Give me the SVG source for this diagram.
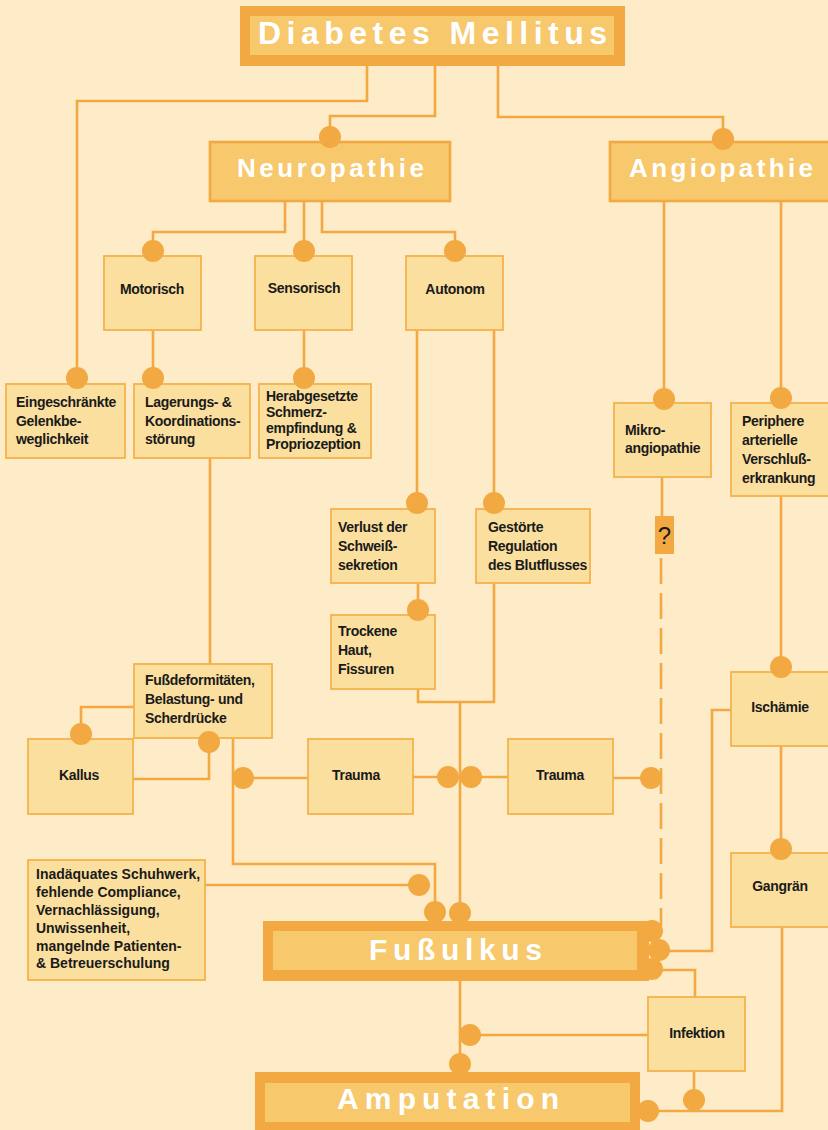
<svg xmlns="http://www.w3.org/2000/svg" width="828" height="1130" viewBox="0 0 828 1130">
<style>
.ln{fill:none;stroke:#F2A942;stroke-width:2.6;stroke-linejoin:miter;stroke-linecap:butt}
.dash{stroke-dasharray:26 9}
.dot{fill:#F2A942}
.box{fill:#FBDF9E;stroke:#F4B24C;stroke-width:1.8}
.tbox{fill:#F7C86C;stroke:#F2A942;stroke-width:2.6}
.outer{fill:#F2A942}
.inner{fill:#F7C86C}
.txt{font-family:"Liberation Sans",Arial,sans-serif;font-weight:bold;font-size:14px;fill:#1a1a1a;letter-spacing:-0.3px}
.c{text-anchor:middle}
.ttl{font-family:"Liberation Sans",Arial,sans-serif;font-weight:bold;fill:#ffffff}
</style>
<rect width="828" height="1130" fill="#FEEBC8"/>

<g id="connectors">
<path class="ln" d="M367,66 V101 H77 V378"/>
<path class="ln" d="M435,66 V116 H330 V137"/>
<path class="ln" d="M498,66 V117 H723 V139"/>
<path class="ln" d="M285,201 V232 H153 V251"/>
<path class="ln" d="M304,201 V251"/>
<path class="ln" d="M322,201 V232 H455 V251"/>
<path class="ln" d="M153,330 V378"/>
<path class="ln" d="M304,330 V378"/>
<path class="ln" d="M417,330 V503"/>
<path class="ln" d="M494,330 V503"/>
<path class="ln" d="M418,583 V610"/>
<path class="ln" d="M418,689 V702 H494 V583"/>
<path class="ln" d="M460,702 V913"/>
<path class="ln" d="M210,458 V664"/>
<path class="ln" d="M134,707 H81 V734"/>
<path class="ln" d="M133,779 H209 V742"/>
<path class="ln" d="M233,738 V864 H435 V912"/>
<path class="ln" d="M243,778 H308"/>
<path class="ln" d="M413,777 H448"/>
<path class="ln" d="M471,777 H508"/>
<path class="ln" d="M613,778 H651"/>
<path class="ln" d="M664,201 V399"/>
<path class="ln" d="M781,201 V398"/>
<path class="ln" d="M662,477 V516"/>
<path class="ln dash" d="M661,558 V926"/>
<path class="ln" d="M781,496 V667"/>
<path class="ln" d="M781,746 V849"/>
<path class="ln" d="M731,710 H712 V951 H659"/>
<path class="ln" d="M205,885 H419"/>
<path class="ln" d="M651,970 H695 V997"/>
<path class="ln" d="M460,981 V1064"/>
<path class="ln" d="M648,1035 H470"/>
<path class="ln" d="M694,1071 V1100"/>
<path class="ln" d="M782,927 V1111 H648"/>
</g>

<g id="diabetes">
<rect class="outer" x="240" y="6" width="385" height="60"/>
<rect class="inner" x="250" y="16" width="364" height="39"/>
<text class="ttl" x="258" y="44" font-size="32" textLength="349" lengthAdjust="spacing">Diabetes Mellitus</text>
</g>
<g id="neuropathie">
<rect class="tbox" x="210" y="142" width="240" height="59"/>
<text class="ttl" x="237" y="177" font-size="26" textLength="187" lengthAdjust="spacing">Neuropathie</text>
</g>
<g id="angiopathie">
<rect class="tbox" x="610" y="142" width="222" height="59"/>
<text class="ttl" x="629" y="177" font-size="26" textLength="184" lengthAdjust="spacing">Angiopathie</text>
</g>
<g id="motorisch">
<rect class="box" x="104" y="256" width="97" height="74"/>
<text class="txt c" x="152" y="294">Motorisch</text>
</g>
<g id="sensorisch">
<rect class="box" x="255" y="256" width="97" height="74"/>
<text class="txt c" x="304" y="293">Sensorisch</text>
</g>
<g id="autonom">
<rect class="box" x="406" y="256" width="97" height="74"/>
<text class="txt c" x="455" y="294">Autonom</text>
</g>
<g id="eingeschraenkte">
<rect class="box" x="6" y="384" width="119" height="74"/>
<text class="txt"><tspan x="16" y="407">Eingeschränkte</tspan><tspan x="16" y="425.5">Gelenkbe-</tspan><tspan x="16" y="444">weglichkeit</tspan></text>
</g>
<g id="lagerung">
<rect class="box" x="134" y="384" width="116" height="74"/>
<text class="txt"><tspan x="145" y="407">Lagerungs- &amp;</tspan><tspan x="145" y="425.5">Koordinations-</tspan><tspan x="145" y="444">störung</tspan></text>
</g>
<g id="herabgesetzte">
<rect class="box" x="259" y="384" width="112" height="74"/>
<text class="txt"><tspan x="266" y="401">Herabgesetzte</tspan><tspan x="266" y="417">Schmerz-</tspan><tspan x="266" y="433">empfindung &amp;</tspan><tspan x="266" y="449">Propriozeption</tspan></text>
</g>
<g id="verlust">
<rect class="box" x="331" y="509" width="104" height="74"/>
<text class="txt"><tspan x="338" y="531.5">Verlust der</tspan><tspan x="338" y="550.5">Schweiß-</tspan><tspan x="338" y="569.5">sekretion</tspan></text>
</g>
<g id="gestoerte">
<rect class="box" x="476" y="509" width="114" height="74"/>
<text class="txt"><tspan x="488" y="531.5">Gestörte</tspan><tspan x="488" y="550.5">Regulation</tspan><tspan x="488" y="569.5">des Blutflusses</tspan></text>
</g>
<g id="trockene">
<rect class="box" x="331" y="615" width="104" height="74"/>
<text class="txt"><tspan x="338" y="636">Trockene</tspan><tspan x="338" y="655">Haut,</tspan><tspan x="338" y="674">Fissuren</tspan></text>
</g>
<g id="mikro">
<rect class="box" x="614" y="403" width="97" height="74"/>
<text class="txt"><tspan x="625" y="434.5">Mikro-</tspan><tspan x="625" y="452.5">angiopathie</tspan></text>
</g>
<g id="frage">
<rect class="outer" x="655" y="516" width="19" height="38"/>
<text x="664.5" y="544" font-family="Liberation Sans, Arial, sans-serif" font-size="24" fill="#1a1a1a" text-anchor="middle">?</text>
</g>
<g id="periphere">
<rect class="box" x="731" y="403" width="99" height="93"/>
<text class="txt"><tspan x="742" y="426">Periphere</tspan><tspan x="742" y="445">arterielle</tspan><tspan x="742" y="464">Verschluß-</tspan><tspan x="742" y="483">erkrankung</tspan></text>
</g>
<g id="fussdeformitaeten">
<rect class="box" x="134" y="664" width="138" height="74"/>
<text class="txt"><tspan x="145" y="685">Fußdeformitäten,</tspan><tspan x="145" y="704">Belastung- und</tspan><tspan x="145" y="723">Scherdrücke</tspan></text>
</g>
<g id="kallus">
<rect class="box" x="28" y="739" width="105" height="75"/>
<text class="txt c" x="79" y="780">Kallus</text>
</g>
<g id="trauma1">
<rect class="box" x="308" y="739" width="105" height="75"/>
<text class="txt c" x="356" y="780">Trauma</text>
</g>
<g id="trauma2">
<rect class="box" x="508" y="739" width="105" height="75"/>
<text class="txt c" x="560" y="780">Trauma</text>
</g>
<g id="ischaemie">
<rect class="box" x="731" y="672" width="99" height="74"/>
<text class="txt c" x="780" y="712">Ischämie</text>
</g>
<g id="gangraen">
<rect class="box" x="731" y="853" width="99" height="74"/>
<text class="txt c" x="780" y="891">Gangrän</text>
</g>
<g id="inadaequates">
<rect class="box" x="28" y="860" width="177" height="120"/>
<text class="txt" style="letter-spacing:0"><tspan x="36" y="879.3">Inadäquates Schuhwerk,</tspan><tspan x="36" y="897.1">fehlende Compliance,</tspan><tspan x="36" y="914.9">Vernachlässigung,</tspan><tspan x="36" y="932.7">Unwissenheit,</tspan><tspan x="36" y="950.5">mangelnde Patienten-</tspan><tspan x="36" y="968.3">&amp; Betreuerschulung</tspan></text>
</g>
<g id="fussulkus">
<rect class="outer" x="263" y="921" width="386" height="60"/>
<rect class="inner" x="273" y="931" width="364" height="39"/>
<text class="ttl" x="369" y="960" font-size="30" textLength="173" lengthAdjust="spacing">Fußulkus</text>
</g>
<g id="infektion">
<rect class="box" x="648" y="997" width="97" height="74"/>
<text class="txt c" x="697" y="1038">Infektion</text>
</g>
<g id="amputation">
<rect class="outer" x="255" y="1072" width="385" height="62"/>
<rect class="inner" x="265" y="1083" width="365" height="39"/>
<text class="ttl" x="337" y="1109" font-size="30" textLength="222" lengthAdjust="spacing">Amputation</text>
</g>

<g id="connector-ends">
<circle class="dot" cx="330" cy="137" r="11"/>
<circle class="dot" cx="723" cy="139" r="11"/>
<circle class="dot" cx="77" cy="378" r="11"/>
<circle class="dot" cx="153" cy="251" r="11"/>
<circle class="dot" cx="304" cy="251" r="11"/>
<circle class="dot" cx="455" cy="251" r="11"/>
<circle class="dot" cx="153" cy="378" r="11"/>
<circle class="dot" cx="304" cy="378" r="11"/>
<circle class="dot" cx="417" cy="503" r="11"/>
<circle class="dot" cx="494" cy="503" r="11"/>
<circle class="dot" cx="418" cy="610" r="11"/>
<circle class="dot" cx="664" cy="399" r="11"/>
<circle class="dot" cx="781" cy="398" r="11"/>
<circle class="dot" cx="81" cy="734" r="11"/>
<circle class="dot" cx="209" cy="742" r="11"/>
<circle class="dot" cx="243" cy="778" r="11"/>
<circle class="dot" cx="448" cy="777" r="11"/>
<circle class="dot" cx="471" cy="777" r="11"/>
<circle class="dot" cx="651" cy="778" r="11"/>
<circle class="dot" cx="781" cy="667" r="11"/>
<circle class="dot" cx="781" cy="849" r="11"/>
<circle class="dot" cx="419" cy="885" r="11"/>
<circle class="dot" cx="435" cy="912" r="11"/>
<circle class="dot" cx="460" cy="913" r="11"/>
<circle class="dot" cx="652" cy="931" r="11"/>
<circle class="dot" cx="659" cy="950" r="11"/>
<circle class="dot" cx="652" cy="969" r="11"/>
<circle class="dot" cx="470" cy="1035" r="11"/>
<circle class="dot" cx="460" cy="1064" r="11"/>
<circle class="dot" cx="694" cy="1100" r="11"/>
<circle class="dot" cx="648" cy="1111" r="11"/>
</g>
</svg>
